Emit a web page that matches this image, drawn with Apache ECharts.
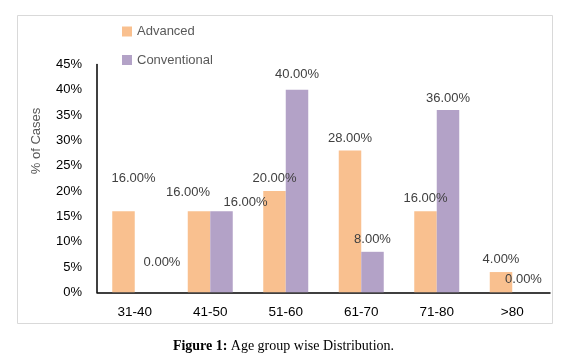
<!DOCTYPE html>
<html><head><meta charset="utf-8">
<script src="https://cdn.jsdelivr.net/npm/echarts@6/dist/echarts.min.js"></script>
<style>html,body{margin:0;padding:0;background:#fff}#c{width:567px;height:362px}</style>
</head><body><div id="c"></div>
<script>
var categories = ['31-40','41-50','51-60','61-70','71-80','>80'];
var advanced = [16, 16, 20, 28, 16, 4];
var conventional = [0, 16, 40, 8, 36, 0];
var yTicks = [0,5,10,15,20,25,30,35,40,45];
// label nudges (presentation only): [dx, dy]
var advNudge = [[10,-20],[-11,-6],[0,0],[0,0],[0,0],[0,0]];
var convNudge = [[16,-17],[24,4],[0,-3],[0,0],[0,1],[0,0]];

function mk(vals, nudge){
  return vals.map(function(v,i){
    return {value:v, label:{offset:nudge[i]}};
  });
}
var lbl = {show:true, position:'top', distance:6, color:'#404040',
  fontFamily:'Liberation Sans', fontSize:13,
  formatter:function(p){return p.value.toFixed(2)+'%';}};

var chart = echarts.init(document.getElementById('c'), null, {renderer:'canvas'});
chart.setOption({
  animation:false,
  backgroundColor:'#fff',
  graphic:[
    {type:'rect', shape:{x:17.5,y:15.5,width:535,height:308}, style:{fill:'none',stroke:'#d9d9d9',lineWidth:1}, z:-1},
    {type:'text', x:36, y:141, rotation:Math.PI/2, style:{text:'% of Cases', fill:'#595959',
      fontFamily:'Liberation Sans', fontSize:13, align:'center', verticalAlign:'middle'}},
    {type:'text', left:'center', top:339, style:{
      rich:{b:{fontFamily:'Liberation Serif',fontSize:14,fontWeight:'bold',fill:'#000'},
            n:{fontFamily:'Liberation Serif',fontSize:14,fill:'#000'}},
      text:'{b|Figure 1:} {n|Age group wise Distribution.}'}}
  ],
  legend:{orient:'vertical', left:122, top:25, itemWidth:10, itemHeight:10, itemGap:15.5,
    icon:'rect', textStyle:{color:'#595959', fontFamily:'Liberation Sans', fontSize:13}, padding:0,
    data:['Advanced','Conventional']},
  grid:{left:97, right:17, top:64.5, bottom:69.7, containLabel:false},
  xAxis:{type:'category', data:categories,
    axisLine:{lineStyle:{color:'#000', width:1.5}}, axisTick:{show:false},
    axisLabel:{color:'#000', fontFamily:'Liberation Sans', fontSize:13.5, margin:13}},
  yAxis:{type:'value', min:yTicks[0], max:yTicks[yTicks.length-1], interval:yTicks[1]-yTicks[0],
    axisLine:{show:true, lineStyle:{color:'#000', width:1.5}}, axisTick:{show:false},
    splitLine:{show:false},
    axisLabel:{color:'#000', fontFamily:'Liberation Sans', fontSize:13, margin:15, formatter:'{value}%'}},
  series:[
    {name:'Advanced', type:'bar', data:mk(advanced, advNudge), barWidth:22.5, barGap:'0%',
      itemStyle:{color:'#F9C08F'}, label:lbl},
    {name:'Conventional', type:'bar', data:mk(conventional, convNudge), barWidth:22.5, barGap:'0%',
      itemStyle:{color:'#B3A2C7'}, label:lbl}
  ]
});
</script></body></html>
